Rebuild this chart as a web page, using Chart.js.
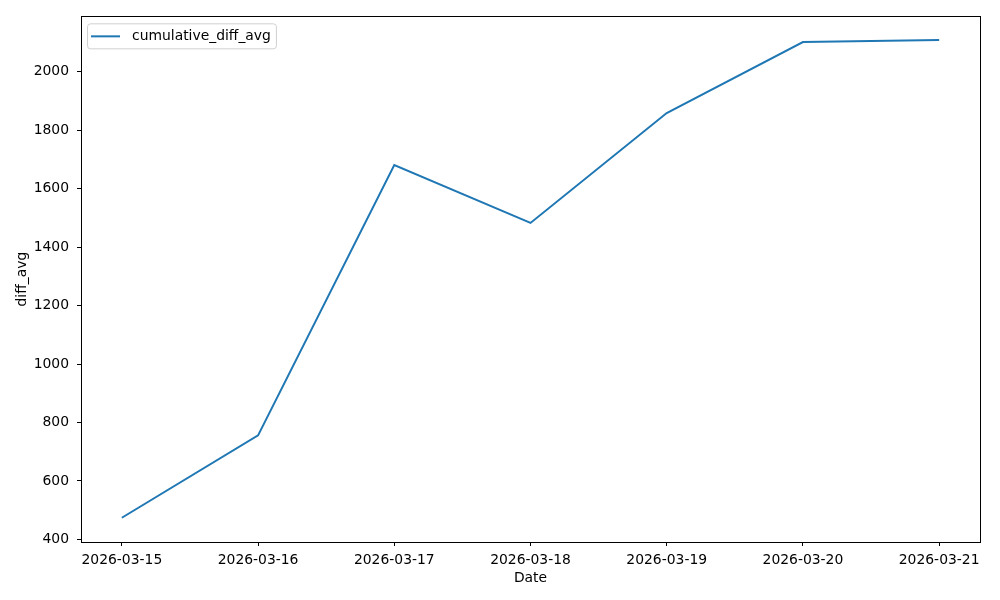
<!DOCTYPE html>
<html>
<head>
<meta charset="utf-8">
<script src="https://cdn.jsdelivr.net/npm/chart.js@4"></script>
<style>
  html, body { margin: 0; padding: 0; background: #fff; }
  #wrap { width: 1000px; height: 600px; }
</style>
</head>
<body>
<div id="wrap"><canvas id="chart" width="1000" height="600"></canvas></div>
<script>
// data
const dates = ['2026-03-15','2026-03-16','2026-03-17','2026-03-18','2026-03-19','2026-03-20','2026-03-21'];
const cumulativeDiffAvg = [474, 756, 1681, 1483, 1859, 2102, 2109];
const yTicks = [400, 600, 800, 1000, 1200, 1400, 1600, 1800, 2000];

const FONT = 'DejaVu Sans';
const BLUE = '#1f77b4';

// frame around the plot + boxed legend in the upper left
const framePlugin = {
  id: 'frame',
  afterDraw(chart){
    const {ctx, chartArea:a} = chart;
    ctx.save();
    ctx.strokeStyle = '#000';
    ctx.lineWidth = 1;
    ctx.strokeRect(Math.round(a.left)+0.5, Math.round(a.top)+0.5, Math.round(a.right-a.left), Math.round(a.bottom-a.top));

    // legend
    const label = chart.data.datasets[0].label;
    ctx.font = '13.9px "' + FONT + '"';
    const tw = ctx.measureText(label).width;
    const x = a.left + 6, y = a.top + 7;
    const w = 45 + tw + 5, h = 25;
    ctx.fillStyle = 'rgba(255,255,255,0.8)';
    ctx.strokeStyle = '#d0d0d0';
    ctx.beginPath();
    ctx.roundRect(x+0.5, y+0.5, w, h, 3);
    ctx.fill(); ctx.stroke();
    ctx.strokeStyle = BLUE;
    ctx.lineWidth = 2;
    ctx.beginPath();
    ctx.moveTo(x + 4, y + h/2 + 0.5);
    ctx.lineTo(x + 33, y + h/2 + 0.5);
    ctx.stroke();
    ctx.fillStyle = '#000';
    ctx.textBaseline = 'middle';
    ctx.fillText(label, x + 45, y + h/2 + 1);
    ctx.restore();
  }
};

const ctx = document.getElementById('chart').getContext('2d');
new Chart(ctx, {
  type: 'line',
  data: {
    datasets: [{
      label: 'cumulative_diff_avg',
      data: cumulativeDiffAvg.map((v,i)=>({x:i, y:v})),
      borderColor: BLUE,
      borderWidth: 2,
      pointRadius: 0,
      tension: 0,
      fill: false
    }]
  },
  options: {
    responsive: false,
    animation: false,
    layout: { padding: { top: 14, right: 20, left: 0, bottom: 13 } },
    plugins: { legend: { display: false }, tooltip: { enabled: false } },
    scales: {
      x: {
        type: 'linear',
        min: -0.3, max: dates.length - 1 + 0.3,
        afterBuildTicks(s){ s.ticks = dates.map((d,i)=>({value:i})); },
        afterFit(s){ s.height = 45; },
        ticks: {
          autoSkip: false, maxRotation: 0,
          callback: v => dates[v],
          color: '#000', font: { family: FONT, size: 13.9 }, padding: 6
        },
        grid: { drawOnChartArea: false, tickLength: 4, color: '#000' },
        border: { display: false },
        title: { display: true, text: 'Date', color: '#000', font: { family: FONT, size: 13.9 }, padding: { top: 2, bottom: 0 } }
      },
      y: {
        min: 391, max: 2190,
        afterBuildTicks(s){ s.ticks = yTicks.map(v=>({value:v})); },
        afterFit(s){ s.width = 81; },
        ticks: { color: '#000', font: { family: FONT, size: 13.9 }, padding: 8, callback: v => String(v) },
        grid: { drawOnChartArea: false, tickLength: 4, color: '#000' },
        border: { display: false },
        title: { display: true, text: 'diff_avg', color: '#000', font: { family: FONT, size: 13.9 }, padding: { top: 14, bottom: 0 } }
      }
    }
  },
  plugins: [framePlugin]
});
</script>
</body>
</html>
